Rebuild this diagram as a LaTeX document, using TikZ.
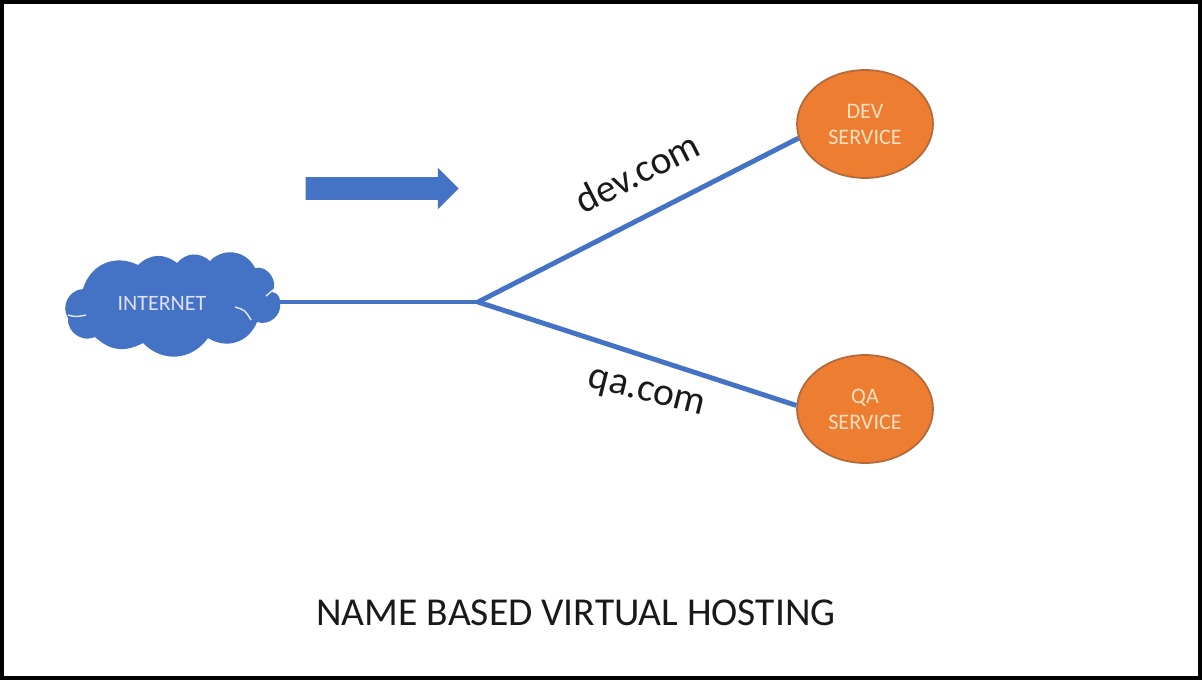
\documentclass[tikz,border=0pt]{standalone}
\usepackage{fontspec}
\setmainfont{Carlito}
\usetikzlibrary{shapes.geometric,shapes.arrows}
\definecolor{linkblue}{HTML}{4472C4}
\definecolor{svcorange}{HTML}{ED7D31}
\definecolor{svcedge}{HTML}{B5693A}
\tikzset{
  service/.style={ellipse,draw=svcedge,line width=1pt,fill=svcorange,text=orange!25!white,
    minimum width=2.72cm,minimum height=2.16cm,inner sep=0pt,align=center,font=\fontsize{12.6}{14.8}\selectfont},
  link/.style={draw=linkblue,line width=2.8pt},
  hostname/.style={font=\fontsize{22.5}{26}\selectfont,text=black!90},
  crease/.style={draw=white!85!linkblue,line width=0.8pt},
  puff/.style={bend left=#1,looseness=1.1}
}
\begin{document}
\begin{tikzpicture}[x=0.02cm,y=-0.02cm]
  \useasboundingbox (0,0) rectangle (1202,680);
  \draw[black,line width=2.3pt] (2,2) rectangle (1200,678); % outer frame

  % Cloud outline, lobe by lobe
  \fill[linkblue] (280,302)
    to[puff=60] (257,322)
    to[puff=50] (208,338)
    to[puff=50] (143,343)
    to[puff=35] (95,337)
    to[puff=60] (68,318)
    to[puff=60] (83,289)
    to[puff=50] (138,265)
    to[puff=40] (177,263)
    to[puff=45] (210,261)
    to[puff=55] (255,268)
    to[puff=70] (272,292)
    to[puff=40] (280,302) -- cycle;
  \draw[crease] (235,307) .. controls (245,310) .. (251,320);
  \draw[crease] (266,296) -- (273,290);
  \draw[crease] (68,315) .. controls (76,317) .. (86,315);

  % Nodes first
  \node[text=blue!12!white,font=\fontsize{12.5}{14}\selectfont] (internet) at (162,303) {INTERNET};
  \node[service] (dev) at (865,124) {DEV\\SERVICE};
  \node[service] (qa) at (865,409) {QA\\SERVICE};
  \coordinate (fork) at (478,302);
  \coordinate (cloudend) at (278,302);

  % Links from the fork
  \draw[link] (cloudend) -- (fork);
  \draw[link] (fork) -- (dev.192);
  \draw[link] (fork) -- (qa.177);

  % Labels
  \node[hostname,rotate=27] (devlabel) at (637,172) {dev.com};
  \node[hostname,rotate=-14] (qalabel) at (646,395) {qa.com};
  \node[single arrow,fill=linkblue,minimum height=3.06cm,inner ysep=0.22cm,inner xsep=0pt,
    single arrow head extend=0.19cm] (flow) at (376.5,188.5) {};
  \node[hostname] (title) at (576,613) {NAME BASED VIRTUAL HOSTING};
\end{tikzpicture}
\end{document}
